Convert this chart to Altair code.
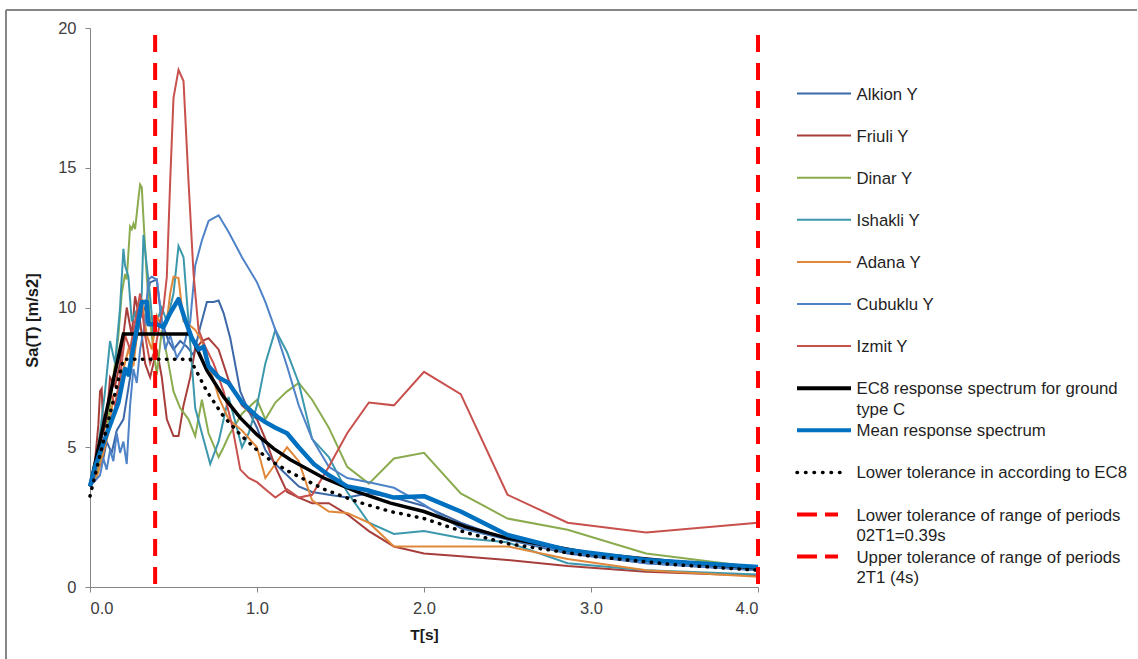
import altair as alt
import pandas as pd

# ---------------- data ----------------
SERIES = ["Alkion Y", "Friuli Y", "Dinar Y", "Ishakli Y", "Adana Y", "Cubuklu Y", "Izmit Y"]
COLORS = ["#3D68A8", "#A83E3B", "#8AAB4E", "#3B98AC", "#E0883A", "#4E83C8", "#C8504D"]

ALKION_T = [0, 0.04, 0.08, 0.1, 0.13, 0.16, 0.2, 0.24, 0.27, 0.3, 0.33, 0.36, 0.4, 0.43, 0.47, 0.5, 0.54, 0.58, 0.62, 0.66, 0.7, 0.74, 0.77, 0.8, 0.84, 0.9, 0.95, 1.0, 1.05, 1.11, 1.18, 1.25, 1.33, 1.43, 1.54, 1.67, 1.82, 2.0, 2.22, 2.5, 2.86, 3.33, 4.0]
ALKION_SA = [3.6, 4.1, 4.6, 5.2, 4.8, 5.6, 6.0, 7.5, 8.6, 9.6, 10.0, 10.9, 11.0, 9.5, 8.8, 8.5, 8.8, 8.6, 8.3, 9.3, 10.2, 10.2, 10.25, 9.8, 8.9, 7.0, 6.3, 5.7, 4.9, 4.4, 4.0, 3.6, 3.4, 3.3, 3.2, 3.35, 3.2, 2.9, 2.3, 1.7, 1.2, 0.85, 0.6]

FRIULI_T = [0, 0.03, 0.05, 0.06, 0.07, 0.08, 0.1, 0.12, 0.15, 0.18, 0.2, 0.22, 0.25, 0.27, 0.3, 0.33, 0.36, 0.4, 0.43, 0.46, 0.5, 0.53, 0.56, 0.6, 0.63, 0.67, 0.71, 0.77, 0.83, 0.91, 1.0, 1.05, 1.11, 1.18, 1.25, 1.33, 1.43, 1.54, 1.67, 1.82, 2.0, 2.22, 2.5, 2.86, 3.33, 4.0]
FRIULI_SA = [3.6, 4.5, 5.8, 7.0, 7.1, 5.5, 6.0, 7.5, 7.2, 8.0, 9.0, 10.0, 9.0, 10.4, 9.5, 8.0, 7.5, 8.5, 7.5, 6.0, 5.4, 5.4, 6.5, 7.5, 8.5, 8.8, 8.9, 8.5, 7.4, 6.5, 6.0, 5.3, 4.3, 3.4, 3.2, 3.0, 3.0, 2.6, 2.0, 1.45, 1.2, 1.1, 0.97, 0.75, 0.55, 0.4]

DINAR_T = [0, 0.04, 0.08, 0.11, 0.14, 0.17, 0.19, 0.21, 0.22, 0.24, 0.25, 0.26, 0.27, 0.29, 0.3, 0.31, 0.32, 0.34, 0.36, 0.38, 0.4, 0.43, 0.47, 0.5, 0.54, 0.59, 0.63, 0.67, 0.71, 0.77, 0.8, 0.83, 0.91, 1.0, 1.05, 1.11, 1.18, 1.25, 1.33, 1.43, 1.54, 1.67, 1.82, 2.0, 2.22, 2.5, 2.86, 3.33, 4.0]
DINAR_SA = [3.6, 4.0, 5.0, 6.0, 7.5, 9.0, 10.5, 11.2, 11.0, 12.9, 12.8, 13.0, 12.8, 13.9, 14.4, 14.3, 13.2, 11.1, 9.5, 8.5, 7.6, 9.2, 8.0, 7.0, 6.4, 6.0, 5.4, 6.7, 5.5, 4.65, 5.0, 5.4, 6.2, 6.7, 6.0, 6.6, 7.0, 7.3, 6.7, 5.7, 4.3, 3.7, 4.6, 4.8, 3.35, 2.45, 2.05, 1.2, 0.7]

ISHAKLI_T = [0, 0.03, 0.06, 0.09, 0.12, 0.15, 0.18, 0.2, 0.21, 0.23, 0.25, 0.27, 0.29, 0.31, 0.32, 0.34, 0.36, 0.38, 0.4, 0.43, 0.46, 0.5, 0.53, 0.56, 0.59, 0.63, 0.67, 0.72, 0.77, 0.83, 0.87, 0.91, 0.95, 1.0, 1.05, 1.11, 1.18, 1.25, 1.33, 1.43, 1.54, 1.67, 1.82, 2.0, 2.22, 2.5, 2.86, 3.33, 4.0]
ISHAKLI_SA = [3.6, 4.2, 5.5, 7.0, 8.8, 8.0, 10.0, 12.1, 11.5, 11.1, 9.5, 9.8, 9.2, 10.5, 12.6, 11.5, 10.4, 9.0, 9.5, 10.0, 9.5, 10.5, 12.2, 11.8, 9.5, 6.4, 5.5, 4.4, 5.2, 6.8, 5.9, 5.0, 5.5, 6.5, 8.0, 9.2, 8.4, 7.3, 5.3, 4.65, 3.4, 2.3, 1.9, 2.0, 1.75, 1.6, 0.85, 0.6, 0.45]

ADANA_T = [0, 0.04, 0.08, 0.11, 0.14, 0.17, 0.2, 0.23, 0.26, 0.29, 0.31, 0.34, 0.37, 0.4, 0.43, 0.46, 0.48, 0.5, 0.53, 0.56, 0.59, 0.63, 0.67, 0.71, 0.77, 0.83, 0.91, 1.0, 1.05, 1.11, 1.18, 1.25, 1.33, 1.43, 1.54, 1.67, 1.82, 2.0, 2.22, 2.5, 2.86, 3.33, 4.0]
ADANA_SA = [3.6, 3.9, 4.8, 5.5, 6.8, 7.0, 7.8, 8.5, 7.9, 9.5, 10.3, 9.0, 8.5, 9.7, 9.3, 9.5, 10.5, 11.1, 11.05, 9.5, 9.4, 9.2, 8.8, 8.0, 6.8, 6.0, 5.6, 5.0, 3.9, 4.4, 5.0, 4.5, 3.1, 2.7, 2.65, 2.3, 1.45, 1.45, 1.45, 1.45, 1.0, 0.6, 0.37]

CUBUKLU_T = [0, 0.03, 0.06, 0.08, 0.1, 0.12, 0.14, 0.16, 0.18, 0.2, 0.22, 0.24, 0.26, 0.28, 0.3, 0.33, 0.35, 0.37, 0.4, 0.42, 0.45, 0.48, 0.52, 0.56, 0.6, 0.63, 0.67, 0.71, 0.77, 0.83, 0.91, 1.0, 1.05, 1.11, 1.18, 1.25, 1.33, 1.43, 1.54, 1.67, 1.82, 2.0, 2.22, 2.5, 2.86, 3.33, 4.0]
CUBUKLU_SA = [3.6, 3.8, 4.0, 4.6, 4.2, 4.9, 4.5, 5.5, 4.8, 5.2, 4.4, 6.5, 7.8, 7.3, 8.5, 9.5, 11.0, 11.1, 11.0, 10.0, 8.5, 9.0, 8.2, 8.6, 9.5, 11.5, 12.4, 13.1, 13.3, 12.7, 11.8, 10.9, 10.2, 9.2, 7.9, 6.5, 5.3, 4.3, 3.9, 3.75, 3.55, 2.95, 2.1, 1.7, 1.25, 0.85, 0.6]

IZMIT_T = [0, 0.03, 0.06, 0.09, 0.12, 0.15, 0.18, 0.21, 0.24, 0.27, 0.3, 0.33, 0.36, 0.39, 0.42, 0.44, 0.46, 0.48, 0.5, 0.53, 0.56, 0.59, 0.62, 0.65, 0.69, 0.74, 0.8, 0.85, 0.9, 0.95, 1.0, 1.05, 1.11, 1.18, 1.25, 1.33, 1.43, 1.54, 1.67, 1.82, 2.0, 2.22, 2.5, 2.86, 3.33, 4.0]
IZMIT_SA = [3.6, 4.0, 5.0, 6.0, 7.0, 6.5, 7.5, 9.0, 8.5, 9.5, 10.5, 9.0, 8.0, 8.5, 9.5, 10.0, 11.1, 14.5, 17.5, 18.5, 18.1, 14.5, 11.2, 9.2, 8.6, 8.0, 7.0, 5.8, 4.2, 3.9, 3.75, 3.5, 3.2, 3.5, 3.2, 3.3, 4.3, 5.5, 6.6, 6.5, 7.7, 6.9, 3.3, 2.3, 1.95, 2.3]

MEAN_T = [0, 0.03, 0.09, 0.17, 0.21, 0.23, 0.27, 0.31, 0.34, 0.35, 0.4, 0.44, 0.48, 0.53, 0.57, 0.61, 0.65, 0.68, 0.71, 0.77, 0.83, 0.91, 1.0, 1.05, 1.11, 1.18, 1.25, 1.34, 1.43, 1.54, 1.67, 1.82, 2.0, 2.22, 2.5, 2.86, 3.33, 4.0]
MEAN_SA = [3.6, 4.3, 5.3, 6.6, 7.8, 7.6, 8.9, 10.2, 10.2, 9.4, 9.4, 9.3, 9.8, 10.3, 9.55, 8.9, 8.5, 8.6, 7.9, 7.5, 7.3, 6.6, 6.1, 5.9, 5.7, 5.5, 5.0, 4.4, 4.0, 3.6, 3.45, 3.2, 3.25, 2.7, 1.86, 1.32, 0.97, 0.72]

EC8_T = [0, 0.2, 0.6, 0.7, 0.8, 0.9, 1.0, 1.1, 1.2, 1.4, 1.6, 1.8, 2.0, 2.25, 2.5, 3.0, 3.5, 4.0]
EC8_SA = [3.6, 9.05, 9.05, 7.75, 6.8, 6.05, 5.45, 4.95, 4.55, 3.9, 3.4, 3.0, 2.7, 2.15, 1.75, 1.2, 0.9, 0.68]
LOWER_SA = [3.25, 8.15, 8.15, 7.0, 6.1, 5.45, 4.9, 4.45, 4.1, 3.5, 3.05, 2.7, 2.45, 1.95, 1.55, 1.1, 0.8, 0.6]

RANGE_T = [0.39, 4.0]

LEGEND_LABELS = SERIES + [
    "EC8 response spectrum for ground\ntype C",
    "Mean response spectrum",
    "Lower tolerance in according to EC8",
    "Lower tolerance of range of periods\n02T1=0.39s",
    "Upper tolerance of range of periods\n2T1 (4s)",
]

# ---------------- layout / style ----------------
W, H = 668, 559
FONT = "Liberation Sans"
AXIS_GRAY = "#868686"
MEAN_BLUE = "#0070C0"
RED = "#FF0000"

x_enc = alt.X(
    "T:Q",
    scale=alt.Scale(domain=[0, 4], nice=False, zero=False),
    axis=alt.Axis(
        values=[0, 1, 2, 3, 4], format=".1f", title="T[s]", labelPadding=8,
        titleX=W / 2, titleY=47, titleBaseline="middle", titleFontSize=15.5,
    ),
)
y_enc = alt.Y(
    "Sa:Q",
    scale=alt.Scale(domain=[0, 20], nice=False),
    axis=alt.Axis(
        values=[0, 5, 10, 15, 20], title="Sa(T) [m/s2]", labelPadding=9,
        titleX=-58, titleY=292, titleAngle=270, titleBaseline="middle", titleAlign="center",
        titleFontSize=16.5,
    ),
)

all_series = [
    (ALKION_T, ALKION_SA), (FRIULI_T, FRIULI_SA), (DINAR_T, DINAR_SA),
    (ISHAKLI_T, ISHAKLI_SA), (ADANA_T, ADANA_SA), (CUBUKLU_T, CUBUKLU_SA),
    (IZMIT_T, IZMIT_SA),
]

layers = []
for name, color, (ts, sas) in zip(SERIES, COLORS, all_series):
    df = pd.DataFrame({"T": ts, "Sa": sas, "series": name})
    layers.append(alt.Chart(df).mark_line(color=color, strokeWidth=2).encode(x=x_enc, y=y_enc))

ec8_df = pd.DataFrame({"T": EC8_T, "Sa": EC8_SA})
low_df = pd.DataFrame({"T": EC8_T, "Sa": LOWER_SA})
mean_df = pd.DataFrame({"T": MEAN_T, "Sa": MEAN_SA})

layers.append(alt.Chart(ec8_df).mark_line(color="black", strokeWidth=3.5).encode(x=x_enc, y=y_enc))
layers.append(alt.Chart(mean_df).mark_line(color=MEAN_BLUE, strokeWidth=4.5, strokeJoin="round").encode(x=x_enc, y=y_enc))
layers.append(
    alt.Chart(low_df).mark_line(color="black", strokeWidth=3.5, strokeDash=[0.5, 7.5], strokeCap="round")
    .encode(x=x_enc, y=y_enc)
)

range_df = pd.DataFrame({"T": RANGE_T})
layers.append(
    alt.Chart(range_df).mark_rule(color=RED, strokeWidth=4, strokeDash=[17, 11])
    .encode(x=alt.X("T:Q", scale=alt.Scale(domain=[0, 4], nice=False, zero=False)),
            y=alt.datum(19.75), y2=alt.datum(0))
)

# ---------------- custom legend (pixel layout right of the plot) ----------------
one = pd.DataFrame({"k": [0]})
LEG_X1, LEG_X2, LEG_TX = 707, 761, 766.5
LEG_Y0, LEG_STEP, LINE_H = 65.5, 42.1, 20.5

sym_styles = [dict(color=c, strokeWidth=2) for c in COLORS] + [
    dict(color="black", strokeWidth=4),
    dict(color=MEAN_BLUE, strokeWidth=4),
    dict(color="black", strokeWidth=3.5, strokeDash=[0.5, 8], strokeCap="round"),
    dict(color=RED, strokeWidth=4, strokeDash=[20, 8]),
    dict(color=RED, strokeWidth=4, strokeDash=[20, 8]),
]
sym_x2 = [LEG_X2] * 9 + [758, 748, 748]

for i, (label, style) in enumerate(zip(LEGEND_LABELS, sym_styles)):
    py = LEG_Y0 + i * LEG_STEP
    layers.append(
        alt.Chart(one).mark_rule(**style).encode(
            x=alt.value(LEG_X1), x2=alt.value(sym_x2[i]), y=alt.value(py)
        )
    )
    for j, line in enumerate(label.split("\n")):
        layers.append(
            alt.Chart(one).mark_text(
                text=line, align="left", baseline="middle", font=FONT, fontSize=16.8, color="#1f1f1f"
            ).encode(x=alt.value(LEG_TX), y=alt.value(py + j * LINE_H + 1))
        )

# ---------------- outer frame ----------------
layers.append(alt.Chart(one).mark_rule(color=AXIS_GRAY, strokeWidth=2).encode(
    x=alt.value(-84), y=alt.value(-18), y2=alt.value(631)))
layers.append(alt.Chart(one).mark_rule(color=AXIS_GRAY, strokeWidth=2).encode(
    x=alt.value(-84), x2=alt.value(1047), y=alt.value(-18)))

chart = (
    alt.layer(*layers)
    .properties(width=W, height=H, padding={"left": 5, "top": 9, "right": 0, "bottom": 0}, background="white")
    .configure_view(strokeWidth=0)
    .configure_axis(
        grid=False,
        domainColor=AXIS_GRAY, domainWidth=1,
        tickColor=AXIS_GRAY, tickSize=5, tickWidth=1,
        labelFont=FONT, labelFontSize=16.5, labelColor="#404040",
        titleFont=FONT, titleFontWeight="bold", titleColor="#1a1a1a",
    )
)

chart.save("out.html", embed_options={"renderer": "svg", "actions": False})
